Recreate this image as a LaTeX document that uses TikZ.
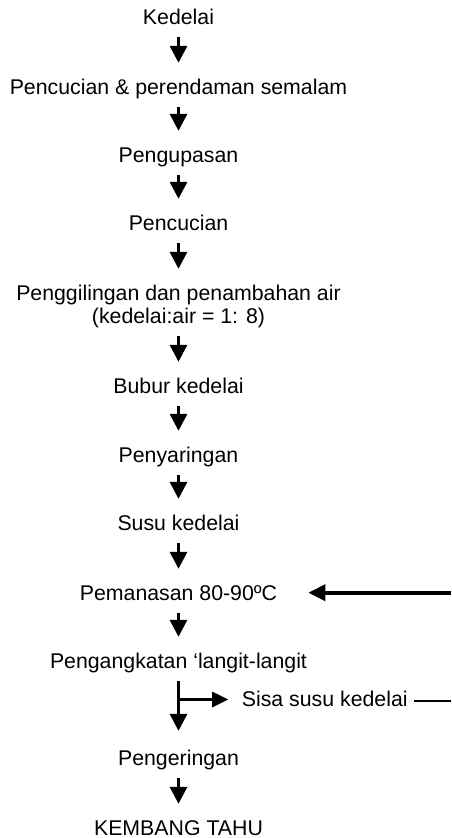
\documentclass[tikz,border=0pt]{standalone}
\usepackage{fontspec}
\setmainfont{Liberation Sans}
\usetikzlibrary{arrows.meta}
\begin{document}
\begin{tikzpicture}[x=1pt,y=-1pt,
  lbl/.style={inner sep=0pt, font=\fontsize{21.3}{24}\selectfont, text height=15pt, text depth=5pt, anchor=base},
  flow/.style={line width=3.2pt, -{Triangle[length=17pt,width=17pt]}, shorten <=8pt, shorten >=16pt},
]
\useasboundingbox (0,0) rectangle (451,838);
\node[lbl] (n1) at (178.5,24) {Kedelai};
\node[lbl] (n2) at (178.5,94) {Pencucian \& perendaman semalam};
\node[lbl] (n3) at (178.5,162) {Pengupasan};
\node[lbl] (n4) at (178.5,230) {Pencucian};
\node[lbl] (n5a) at (178.5,300) {Penggilingan dan penambahan air};
\node[lbl] (n5b) at (178.5,323) {(kedelai:air = 1: 8)};
\node[lbl] (n6) at (178.5,393) {Bubur kedelai};
\node[lbl] (n7) at (178.5,462) {Penyaringan};
\node[lbl] (n8) at (178.5,530) {Susu kedelai};
\node[lbl] (n9) at (178.5,600) {Pemanasan 80-90ºC};
\node[lbl] (n10) at (178.5,668) {Pengangkatan ‘langit-langit};
\node[lbl] (n11) at (178.5,765) {Pengeringan};
\node[lbl] (n12) at (178.5,835) {KEMBANG TAHU};
\node[lbl, anchor=base west] (s) at (241.7,706.5) {Sisa susu kedelai};

\draw[flow] (n1.south) -- (n2.north);
\draw[flow] (n2.south) -- (n3.north);
\draw[flow] (n3.south) -- (n4.north);
\draw[flow] (n4.south) -- (n5a.north);
\draw[flow] (n5b.south) -- (n6.north);
\draw[flow] (n6.south) -- (n7.north);
\draw[flow] (n7.south) -- (n8.north);
\draw[flow] (n8.south) -- (n9.north);
\draw[flow] (n9.south) -- (n10.north);
\draw[flow, shorten >=19pt] (n10.south) -- (n11.north);
\draw[flow] (n11.south) -- (n12.north);

\coordinate (e1) at (451,592.7);
\draw[line width=3.8pt, -{Triangle[length=17pt,width=16pt]}, shorten >=31pt] (e1) -- (e1 -| n9.east);

\coordinate (br) at (178.5,699.5);
\draw[line width=2.8pt, -{Triangle[length=16pt,width=15pt]}, shorten >=13.5pt] (br) -- (br -| s.west);
\coordinate (e2) at (451,701);
\draw[line width=2pt, shorten <=6pt] (s.east |- e2) -- (e2);
\end{tikzpicture}
\end{document}
